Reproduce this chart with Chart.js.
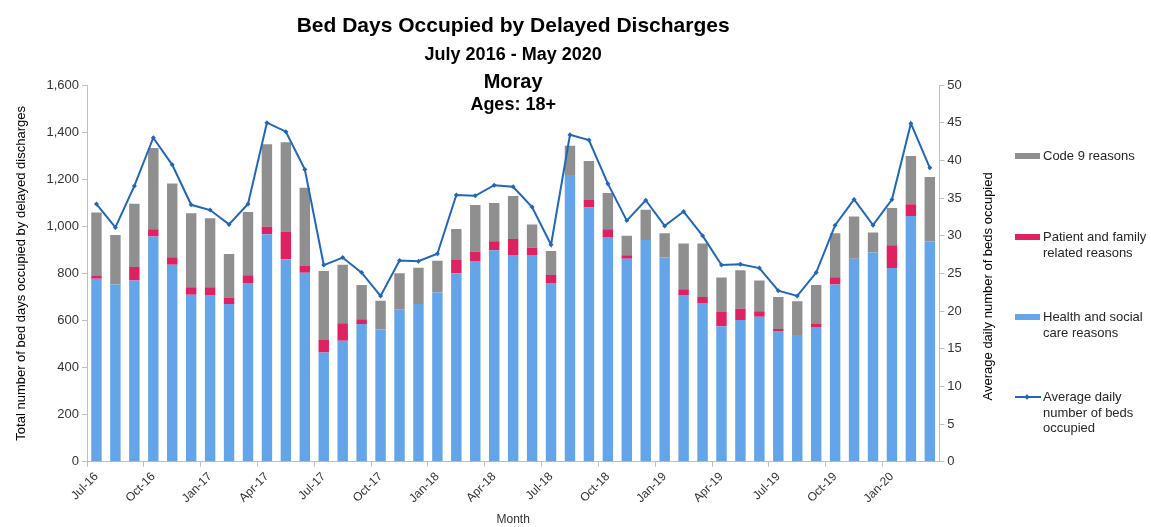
<!DOCTYPE html>
<html>
<head>
<meta charset="utf-8">
<script src="https://cdn.jsdelivr.net/npm/chart.js@4.4.1/dist/chart.umd.min.js"></script>
<style>
  html, body { margin:0; padding:0; background:#fff; }
  #wrap { position:relative; width:1151px; height:527px; font-family:"Liberation Sans", Arial, sans-serif; }
  canvas { position:absolute; left:0; top:0; }
  .lg { position:absolute; left:1015px; font-size:13px; color:#262626; line-height:15.5px; }
  .lg .sw { position:absolute; left:0; width:25px; height:6px; }
  .lg .tx { position:absolute; left:28px; white-space:nowrap; }
  .lg .ln { position:absolute; left:0; width:26px; height:2px; background:#2166B8; }
  .lg .pt { position:absolute; left:10px; width:4px; height:4px; background:#2166B8; transform:rotate(45deg); }
</style>
</head>
<body>
<div id="wrap">
  <canvas id="c" width="1151" height="527"></canvas>
  <div class="lg" style="top:148px;"><div class="sw" style="top:5px;background:#8F8F8F;"></div><div class="tx">Code 9 reasons</div></div>
  <div class="lg" style="top:229px;"><div class="sw" style="top:5px;background:#DE2160;"></div><div class="tx">Patient and family<br>related reasons</div></div>
  <div class="lg" style="top:309px;"><div class="sw" style="top:5px;background:#63A5E8;"></div><div class="tx">Health and social<br>care reasons</div></div>
  <div class="lg" style="top:389px;"><div class="ln" style="top:7px;"></div><div class="pt" style="top:6px;"></div><div class="tx">Average daily<br>number of beds<br>occupied</div></div>
</div>
<script>
const months = ["Jul-16","Aug-16","Sep-16","Oct-16","Nov-16","Dec-16","Jan-17","Feb-17","Mar-17","Apr-17","May-17","Jun-17",
  "Jul-17","Aug-17","Sep-17","Oct-17","Nov-17","Dec-17","Jan-18","Feb-18","Mar-18","Apr-18","May-18","Jun-18",
  "Jul-18","Aug-18","Sep-18","Oct-18","Nov-18","Dec-18","Jan-19","Feb-19","Mar-19","Apr-19","May-19","Jun-19",
  "Jul-19","Aug-19","Sep-19","Oct-19","Nov-19","Dec-19","Jan-20","Feb-20","Mar-20"];

const healthSocial = [777,753,770,957,837,709,708,670,759,966,860,803,
  464,514,585,562,647,670,719,800,852,898,878,878,
  759,1218,1080,954,862,942,867,708,674,575,602,616,
  555,538,572,753,862,889,823,1044,935];

const patientFamily = [12,0,57,30,31,32,33,27,33,32,118,30,
  53,74,20,0,0,0,0,57,40,38,68,31,
  34,0,32,33,15,0,0,24,26,61,48,23,
  9,0,13,30,0,0,96,49,0];

const code9 = [269,210,269,345,314,314,293,185,269,350,379,331,
  293,249,145,122,153,154,135,131,198,163,183,99,
  102,124,165,154,83,128,103,195,227,146,163,131,
  136,143,165,187,179,84,159,205,274];

const avgDaily = [34.2,31.1,36.6,43.0,39.4,34.1,33.4,31.5,34.2,45.0,43.8,38.8,
  26.1,27.1,25.1,22.0,26.7,26.6,27.6,35.4,35.3,36.7,36.5,33.8,
  28.8,43.4,42.7,36.9,32.0,34.7,31.3,33.2,30.0,26.1,26.2,25.7,
  22.7,22.0,25.1,31.4,34.8,31.4,34.8,44.9,39.0];

const titleLines = [
  { text: "Bed Days Occupied by Delayed Discharges", size: 21, y: 32 },
  { text: "July 2016 - May 2020", size: 18, y: 60 },
  { text: "Moray", size: 20, y: 88 },
  { text: "Ages: 18+", size: 18, y: 110 }
];
const rightAxisTitle = "Average daily number of beds occupied";

const FONT = '"Liberation Sans", Arial, sans-serif';
const AXIS = '#BFBFBF';
const TICK = '#333333';

const titlePlugin = {
  id: 'titles',
  afterDraw(chart) {
    const ctx = chart.ctx;
    const cx = (chart.chartArea.left + chart.chartArea.right) / 2;
    ctx.save();
    ctx.fillStyle = '#000';
    ctx.textAlign = 'center';
    ctx.textBaseline = 'alphabetic';
    titleLines.forEach(l => {
      ctx.font = 'bold ' + l.size + 'px ' + FONT;
      ctx.fillText(l.text, cx, l.y);
    });
    // right axis title, reading bottom to top
    const s = chart.scales.y1;
    ctx.font = '13px ' + FONT;
    ctx.textBaseline = 'middle';
    ctx.translate(s.right - 12, (chart.chartArea.top + chart.chartArea.bottom) / 2 + 13);
    ctx.rotate(-Math.PI / 2);
    ctx.fillText(rightAxisTitle, 0, 0);
    ctx.restore();
  }
};

new Chart(document.getElementById('c'), {
  type: 'bar',
  data: {
    labels: months,
    datasets: [
      { type: 'line', label: 'Average daily number of beds occupied', data: avgDaily, yAxisID: 'y1',
        borderColor: '#2166B8', backgroundColor: '#2166B8', borderWidth: 2, pointStyle: 'rectRot',
        pointRadius: 2.5, pointBorderWidth: 0, tension: 0, order: 0 },
      { label: 'Health and social care reasons', data: healthSocial, backgroundColor: '#63A5E8', stack: 's', order: 1 },
      { label: 'Patient and family related reasons', data: patientFamily, backgroundColor: '#DE2160', stack: 's', order: 1 },
      { label: 'Code 9 reasons', data: code9, backgroundColor: '#8F8F8F', stack: 's', order: 1 }
    ]
  },
  options: {
    responsive: false,
    animation: false,
    devicePixelRatio: 1,
    layout: { padding: { top: 85, right: 151, left: 0, bottom: 0 } },
    datasets: { bar: { categoryPercentage: 1, barPercentage: 0.55 } },
    plugins: { legend: { display: false }, tooltip: { enabled: false }, title: { display: false } },
    scales: {
      x: {
        stacked: true,
        afterFit(s) { s.height = 65.3; },
        border: { color: AXIS, width: 1 },
        grid: { drawOnChartArea: false, drawTicks: true, tickLength: 5, offset: true,
                color: c => (c.index % 3 === 0 ? AXIS : 'rgba(0,0,0,0)') },
        ticks: { autoSkip: false, maxRotation: 45, minRotation: 45, color: TICK,
                 font: { family: FONT, size: 12 },
                 callback: (v, i) => (i % 3 === 0 ? months[i] : '') },
        title: { display: true, text: 'Month', color: TICK, font: { family: FONT, size: 12 }, padding: { top: 4, bottom: 0 } }
      },
      y: {
        position: 'left', stacked: true, min: 0, max: 1600,
        afterFit(s) { s.width = 87; },
        border: { color: AXIS, width: 1 },
        grid: { drawOnChartArea: false, tickLength: 5, color: AXIS },
        ticks: { stepSize: 200, color: TICK, font: { family: FONT, size: 13 },
                 callback: v => v.toLocaleString('en-US') },
        title: { display: true, text: 'Total number of bed days occupied by delayed discharges', color: '#000',
                 font: { family: FONT, size: 13 }, padding: { top: 14, bottom: 4 } }
      },
      y1: {
        position: 'right', min: 0, max: 50,
        afterFit(s) { s.width = 60.7; },
        border: { color: AXIS, width: 1 },
        grid: { drawOnChartArea: false, tickLength: 5, color: AXIS },
        ticks: { stepSize: 5, color: TICK, font: { family: FONT, size: 13 } },
        title: { display: false }
      }
    }
  },
  plugins: [titlePlugin]
});
</script>
</body>
</html>
